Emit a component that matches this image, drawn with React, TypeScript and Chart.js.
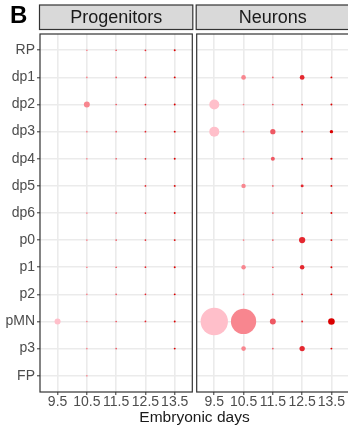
import React, { useEffect, useRef } from 'react';
import { Chart, registerables } from 'chart.js';

Chart.register(...registerables);

// ---- data ----
const regions = ['RP', 'dp1', 'dp2', 'dp3', 'dp4', 'dp5', 'dp6', 'p0', 'p1', 'p2', 'pMN', 'p3', 'FP'];
const days = ['9.5', '10.5', '11.5', '12.5', '13.5'];
const panels = ['Progenitors', 'Neurons'];
const dayColors = ['#FFBFCA', '#F8868F', '#EE5863', '#E4272F', '#DA0000'];

// percentage of cells per region (RP..FP), one array per embryonic day; null = no dot
const progenitors95 = [null, null, null, null, null, null, null, null, null, null, 3, null, null];
const progenitors105 = [0.15, 0.15, 2.9, 0.15, 0.15, null, 0.15, 0.15, 0.15, 0.15, 0.15, 0.12, 0.12];
const progenitors115 = [0.2, 0.2, 0.2, 0.2, 0.2, null, 0.2, 0.2, 0.2, 0.2, 0.2, 0.2, null];
const progenitors125 = [0.25, 0.25, 0.25, 0.25, 0.25, 0.25, 0.25, 0.25, 0.25, 0.25, 0.25, null, null];
const progenitors135 = [0.3, 0.3, 0.3, 0.3, 0.3, 0.3, 0.3, 0.3, 0.3, 0.3, 0.3, 0.3, null];

const neurons95 = [null, null, 8.2, 8.2, null, null, null, null, null, null, 61, null, null];
const neurons105 = [null, 1.8, 0.15, 0.15, 0.12, 1.6, null, 0.12, 1.6, 0.15, 52, 1.7, null];
const neurons115 = [null, 0.2, 0.2, 2.3, 1.3, 0.2, 0.2, 0.2, 0.2, 0.2, 2.9, 0.2, null];
const neurons125 = [null, 1.9, 0.25, 0.25, 0.3, 0.7, 0.25, 3.2, 1.7, 0.25, 0.3, 2.3, null];
const neurons135 = [null, 0.3, 0.3, 0.95, 0.4, 0.3, 0.3, 0.3, 0.3, 0.3, 3.6, 0.3, null];

const progenitors = [progenitors95, progenitors105, progenitors115, progenitors125, progenitors135];
const neurons = [neurons95, neurons105, neurons115, neurons125, neurons135];

// ---- layout constants ----
const PANEL_OFFSET = 5.35; // x position of first day in second facet
const EXP = 0.6; // ggplot discrete expansion
const FONT = "'Liberation Sans', Arial, sans-serif";

const xPos = (panel: number, dayIdx: number) => (panel === 0 ? dayIdx : PANEL_OFFSET + dayIdx);
const radiusOf = (v: number) => Math.max(0.85, 1.75 * Math.sqrt(v));

const facetPlugin = {
  id: 'facets',
  beforeDatasetsDraw(chart: any) {
    const { ctx, chartArea: a, scales } = chart;
    const x = scales.x;
    const gapL = x.getPixelForValue(4 + EXP);
    const gapR = x.getPixelForValue(PANEL_OFFSET - EXP);
    ctx.save();
    ctx.fillStyle = '#ffffff';
    ctx.fillRect(gapL, a.top - 2, gapR - gapL, a.bottom - a.top + 4);
    ctx.restore();
  },
  afterDatasetsDraw(chart: any) {
    const { ctx, chartArea: a, scales } = chart;
    const x = scales.x;
    const bounds = [
      [x.getPixelForValue(-EXP), x.getPixelForValue(4 + EXP)],
      [x.getPixelForValue(PANEL_OFFSET - EXP), x.getPixelForValue(PANEL_OFFSET + 4 + EXP)],
    ];
    ctx.save();
    ctx.strokeStyle = '#333333';
    ctx.lineWidth = 1.2;
    bounds.forEach(([l, r], i) => {
      // panel border
      ctx.strokeRect(l, a.top, r - l, a.bottom - a.top);
      // strip
      const sTop = 5, sBot = 29.5;
      ctx.fillStyle = '#D9D9D9';
      ctx.fillRect(l - 0.5, sTop, r - l + 1, sBot - sTop);
      ctx.strokeRect(l - 0.5, sTop, r - l + 1, sBot - sTop);
      ctx.fillStyle = '#1A1A1A';
      ctx.font = `18px ${FONT}`;
      ctx.textAlign = 'center';
      ctx.textBaseline = 'middle';
      ctx.fillText(panels[i], (l + r) / 2, (sTop + sBot) / 2 + 1);
    });
    // panel letter
    ctx.fillStyle = '#000000';
    ctx.font = `bold 24px ${FONT}`;
    ctx.textAlign = 'left';
    ctx.textBaseline = 'alphabetic';
    ctx.fillText('B', 10, 23);
    ctx.restore();
  },
};

export default function App() {
  const canvasRef = useRef<HTMLCanvasElement | null>(null);

  useEffect(() => {
    document.body.style.margin = '0';
    const canvas = canvasRef.current;
    if (!canvas) return;

    const datasets: any[] = [];
    [progenitors, neurons].forEach((panelData, p) => {
      panelData.forEach((vals, d) => {
        const pts: any[] = [];
        vals.forEach((v, r) => {
          if (v !== null && v !== undefined) pts.push({ x: xPos(p, d), y: r, v });
        });
        datasets.push({
          label: `${panels[p]} ${days[d]}`,
          data: pts,
          backgroundColor: dayColors[d],
          borderWidth: 0,
          pointRadius: (c: any) => (c.raw ? radiusOf(c.raw.v) : 0),
          pointHoverRadius: (c: any) => (c.raw ? radiusOf(c.raw.v) : 0),
          clip: false,
        });
      });
    });

    const xTicks: number[] = [];
    for (let p = 0; p < 2; p++) for (let d = 0; d < days.length; d++) xTicks.push(xPos(p, d));

    const chart = new Chart(canvas, {
      type: 'scatter',
      data: { datasets },
      options: {
        animation: false,
        responsive: false,
        devicePixelRatio: 1,
        layout: { autoPadding: false, padding: { left: 0, right: 3, top: 34, bottom: 0 } },
        plugins: { legend: { display: false }, tooltip: { enabled: false } },
        scales: {
          x: {
            type: 'linear',
            min: -EXP,
            max: PANEL_OFFSET + 4 + EXP,
            afterBuildTicks: (s: any) => {
              s.ticks = xTicks.map((v) => ({ value: v }));
            },
            afterFit: (s: any) => {
              s.height = 41;
              s.paddingLeft = 0;
              s.paddingRight = 0;
            },
            ticks: {
              autoSkip: false,
              maxRotation: 0,
              padding: -1,
              color: '#4D4D4D',
              font: { family: FONT, size: 14 },
              callback: (v: any) => {
                const n = Number(v);
                const idx = n < PANEL_OFFSET - 0.5 ? Math.round(n) : Math.round(n - PANEL_OFFSET);
                return days[idx];
              },
            },
            grid: {
              color: '#EBEBEB',
              lineWidth: 1.6,
              tickColor: '#333333',
              tickWidth: 1,
              tickLength: 3,
            },
            border: { display: false },
            title: {
              display: true,
              text: 'Embryonic days',
              color: '#1A1A1A',
              font: { family: FONT, size: 15.5 },
              padding: { top: 0, bottom: 6 },
            },
          },
          y: {
            type: 'linear',
            reverse: true,
            min: -EXP,
            max: regions.length - 1 + EXP,
            afterBuildTicks: (s: any) => {
              s.ticks = regions.map((_, i) => ({ value: i }));
            },
            afterFit: (s: any) => {
              s.width = 40;
              s.paddingTop = 0;
              s.paddingBottom = 0;
            },
            ticks: {
              autoSkip: false,
              padding: 2,
              color: '#4D4D4D',
              font: { family: FONT, size: 14 },
              callback: (v: any) => regions[Math.round(Number(v))],
            },
            grid: {
              color: '#EBEBEB',
              lineWidth: 1.6,
              tickColor: '#333333',
              tickWidth: 1,
              tickLength: 3,
            },
            border: { display: false },
          },
        },
      },
      plugins: [facetPlugin],
    } as any);

    return () => chart.destroy();
  }, []);

  return (
    <div style={{ width: 348, height: 433, overflow: 'hidden', background: '#fff' }}>
      <canvas ref={canvasRef} width={352} height={433} style={{ width: 352, height: 433, display: 'block' }} />
    </div>
  );
}
